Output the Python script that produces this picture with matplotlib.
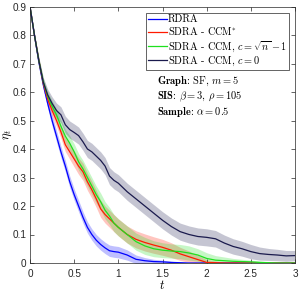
import numpy as np
import matplotlib
matplotlib.use("Agg")
import matplotlib.pyplot as plt

plt.rcParams['mathtext.fontset'] = 'cm'
plt.rcParams['font.family'] = ['Liberation Sans', 'DejaVu Sans']

# time grid (t) shared by all curves
t = [0, 0.05, 0.1, 0.15, 0.2, 0.25, 0.3, 0.35, 0.4, 0.45, 0.5, 0.55, 0.6, 0.65,
     0.7, 0.75, 0.8, 0.85, 0.9, 0.95, 1.0, 1.1, 1.2, 1.3, 1.4, 1.5, 1.6, 1.7,
     1.8, 1.9, 2.0, 2.1, 2.2, 2.3, 2.4, 2.5, 2.6, 2.7, 2.8, 2.9, 3.0]

rdra = [0.9, 0.80, 0.705, 0.625, 0.56, 0.50, 0.445, 0.39, 0.34, 0.285, 0.24, 0.20,
        0.16, 0.125, 0.10, 0.08, 0.065, 0.053, 0.043, 0.04, 0.038, 0.028, 0.013,
        0.008, 0.005, 0.004, 0.002, 0.001, 0, 0, 0, 0, 0, 0, 0, 0, 0, 0, 0, 0, 0]
ccm_star = [0.9, 0.80, 0.71, 0.63, 0.575, 0.535, 0.50, 0.46, 0.415, 0.39, 0.365,
            0.34, 0.32, 0.285, 0.257, 0.225, 0.19, 0.17, 0.155, 0.14, 0.125, 0.10,
            0.083, 0.072, 0.063, 0.055, 0.045, 0.032, 0.022, 0.012, 0.002, 0.001,
            0, 0, 0, 0, 0, 0, 0, 0, 0]
ccm_sqrt = [0.9, 0.80, 0.71, 0.635, 0.585, 0.55, 0.52, 0.48, 0.445, 0.42, 0.39,
            0.355, 0.33, 0.30, 0.27, 0.24, 0.215, 0.185, 0.165, 0.14, 0.125, 0.10,
            0.075, 0.06, 0.05, 0.045, 0.042, 0.04, 0.035, 0.028, 0.016, 0.01,
            0.008, 0.006, 0.005, 0.004, 0.002, 0.001, 0, 0, 0]
ccm_zero = [0.9, 0.80, 0.71, 0.635, 0.59, 0.56, 0.535, 0.52, 0.485, 0.468, 0.458,
            0.447, 0.425, 0.40, 0.39, 0.375, 0.36, 0.34, 0.305, 0.29, 0.28, 0.25,
            0.225, 0.20, 0.175, 0.15, 0.128, 0.11, 0.10, 0.093, 0.09, 0.085, 0.07,
            0.058, 0.05, 0.04, 0.033, 0.03, 0.028, 0.025, 0.026]

# half widths of the shaded bands
rdra_hw = [0, 0.005, 0.01, 0.014, 0.017, 0.019, 0.02, 0.02, 0.02, 0.02, 0.02, 0.02,
           0.02, 0.02, 0.02, 0.02, 0.02, 0.02, 0.02, 0.02, 0.02, 0.018, 0.015,
           0.011, 0.008, 0.006, 0.004, 0.002, 0.001, 0, 0, 0, 0, 0, 0, 0, 0, 0, 0, 0, 0]
star_hw = [0, 0.005, 0.01, 0.014, 0.017, 0.019, 0.02, 0.022, 0.024, 0.026, 0.028,
           0.029, 0.03, 0.03, 0.03, 0.03, 0.03, 0.03, 0.03, 0.03, 0.03, 0.03, 0.03,
           0.03, 0.029, 0.028, 0.026, 0.023, 0.02, 0.015, 0.01, 0.006, 0.004, 0.002,
           0.001, 0, 0, 0, 0, 0, 0]
sqrt_hw = [0, 0.005, 0.01, 0.014, 0.017, 0.019, 0.02, 0.022, 0.024, 0.026, 0.028,
           0.029, 0.03, 0.03, 0.03, 0.03, 0.03, 0.03, 0.03, 0.03, 0.03, 0.03, 0.03,
           0.03, 0.028, 0.026, 0.025, 0.025, 0.025, 0.022, 0.02, 0.016, 0.013, 0.01,
           0.008, 0.006, 0.005, 0.004, 0.002, 0.001, 0.001]
zero_hw = [0, 0.006, 0.012, 0.016, 0.02, 0.023, 0.026, 0.028, 0.03, 0.03, 0.03, 0.03,
           0.03, 0.03, 0.03, 0.03, 0.03, 0.03, 0.03, 0.03, 0.03, 0.03, 0.03, 0.03,
           0.03, 0.03, 0.03, 0.03, 0.03, 0.03, 0.03, 0.029, 0.028, 0.027, 0.026,
           0.025, 0.023, 0.021, 0.02, 0.019, 0.018]

labels = ['RDRA', r'SDRA - CCM$^{*}$', r'SDRA - CCM, $c=\sqrt{n}-1$',
          r'SDRA - CCM, $c=0$']
colors = ['#0000ff', '#ff1a00', '#1ee01e', '#1a1a4d']
series = [rdra, ccm_star, ccm_sqrt, ccm_zero]
widths = [rdra_hw, star_hw, sqrt_hw, zero_hw]

fig = plt.figure(figsize=(3.05, 2.95), dpi=100)
ax = fig.add_axes([30 / 305, 32 / 295, 265 / 305, 256.5 / 295])

tt = np.array(t)
for vals, hw, c in zip(series, widths, colors):
    v = np.array(vals)
    w = np.array(hw)
    ax.fill_between(tt, v - w, v + w, color=c, alpha=0.25, lw=0)

handles = []
for vals, c, lab in zip(series, colors, labels):
    h, = ax.plot(t, vals, color=c, lw=0.9, label=lab)
    handles.append(h)

ax.set_xlim(0, 3)
ax.set_ylim(0, 0.9)
ax.set_xticks([0, 0.5, 1, 1.5, 2, 2.5, 3])
ax.set_xticklabels(['0', '0.5', '1', '1.5', '2', '2.5', '3'])
ax.set_yticks(np.arange(0, 10) / 10)
ax.set_yticklabels(['0', '0.1', '0.2', '0.3', '0.4', '0.5', '0.6', '0.7', '0.8', '0.9'])
ax.tick_params(direction='in', length=3, width=0.5, color='0.15',
               labelsize=7.2, labelcolor='0.15', top=True, right=True)
ax.tick_params(axis='x', pad=4.5)
ax.tick_params(axis='y', pad=2.5)
for s in ax.spines.values():
    s.set_linewidth(0.5)
    s.set_color('0.15')

ax.set_xlabel(r'$t$', fontsize=9, labelpad=0)
ax.set_ylabel(r'$\eta_t$', fontsize=9)
ax.yaxis.set_label_coords(-0.062, 0.5)

leg = ax.legend(handles=handles, loc='upper right', prop={'family': 'cmr10', 'size': 7.4},
                handlelength=1.8, handletextpad=0.1, borderpad=0.2,
                labelspacing=0.12, borderaxespad=0.6, fancybox=False, framealpha=1)
leg.get_frame().set_edgecolor('0.15')
leg.get_frame().set_linewidth(0.5)

ax.text(0.479, 0.735,
        '$\\mathbf{Graph}$: SF, $m=5$\n'
        '$\\mathbf{SIS}$: $\\beta=3$, $\\rho=105$\n'
        '$\\mathbf{Sample}$: $\\alpha=0.5$',
        transform=ax.transAxes, family='cmr10', fontsize=7.5, va='top', ha='left',
        linespacing=1.15)

fig.savefig('out.png', dpi=100)
